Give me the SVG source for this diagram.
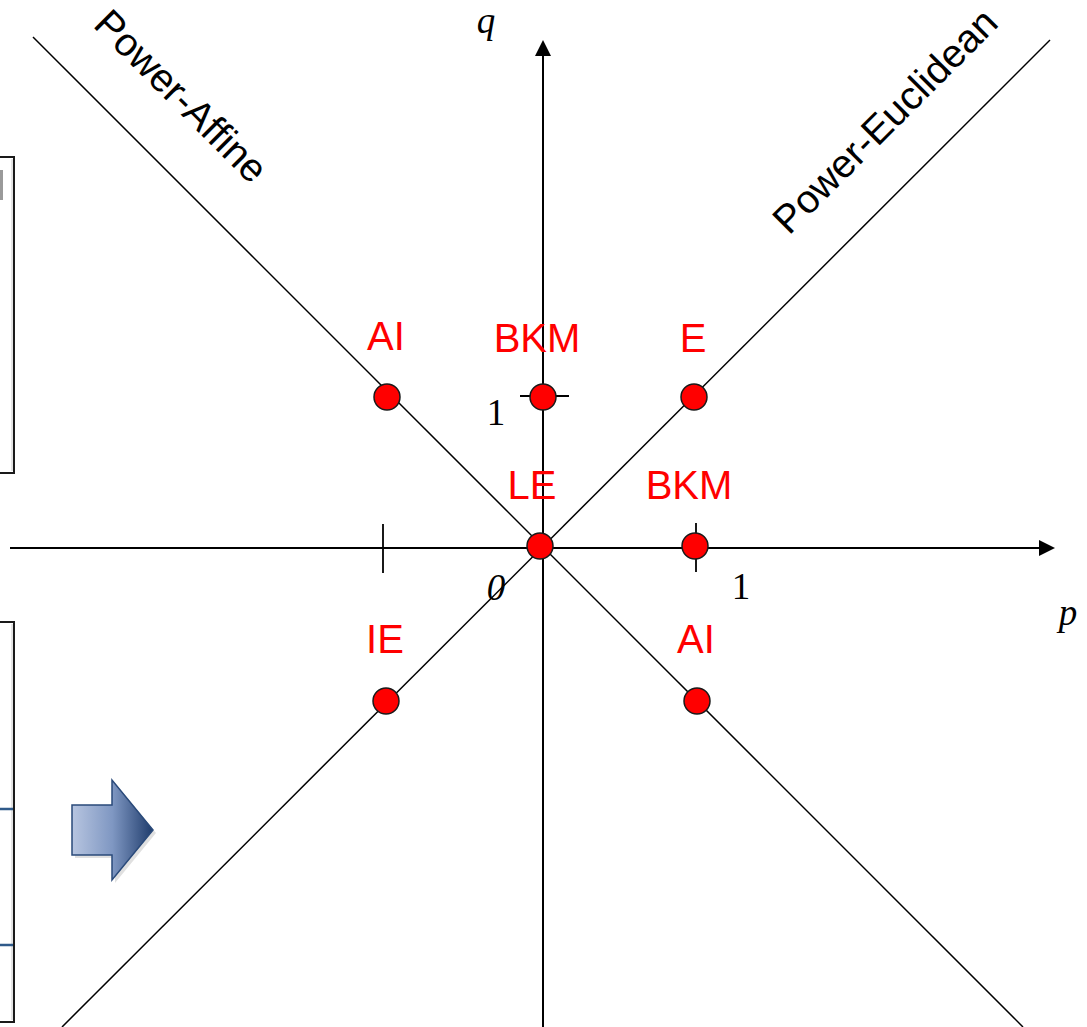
<svg xmlns="http://www.w3.org/2000/svg" width="1087" height="1027" viewBox="0 0 1087 1027">
<style>
.axis{stroke:#000;stroke-width:2;fill:none}
.diag{stroke:#000;stroke-width:1.5;fill:none}
.tick{stroke:#000;stroke-width:1.8}
.dot{fill:#ff0000;stroke:#1a1a1a;stroke-width:1.5}
.lab{font-family:"Liberation Sans",Arial,sans-serif;font-size:40px;fill:#ff0000;text-anchor:middle}
.rot{font-family:"Liberation Sans",Arial,sans-serif;font-size:39.5px;fill:#000}
.math{font-family:"Liberation Serif","DejaVu Serif",serif;font-size:37px;fill:#000}
.it{font-style:italic}
.box{fill:#fff;stroke:#1a1a1a;stroke-width:2}
</style>
<defs>
<linearGradient id="ag" x1="0" y1="0" x2="1" y2="0">
<stop offset="0" stop-color="#b7c5e0"/>
<stop offset="0.5" stop-color="#7f97c2"/>
<stop offset="1" stop-color="#1f3c6c"/>
</linearGradient>
</defs>
<rect width="1087" height="1027" fill="#fff"/>
<g id="left-panels">
<rect class="box" x="-4" y="157" width="18" height="316"/>
<rect x="0" y="170" width="3" height="30" fill="#9a9a9a"/>
<line x1="12" y1="159" x2="12" y2="471" stroke="#c8c8c8" stroke-width="1"/>
<rect class="box" x="-4" y="622" width="18" height="400"/>
<line x1="12" y1="624" x2="12" y2="1020" stroke="#c8c8c8" stroke-width="1"/>
<line x1="0" y1="809" x2="13" y2="809" stroke="#2f5a8a" stroke-width="2.5"/>
<line x1="0" y1="945" x2="13" y2="945" stroke="#2f5a8a" stroke-width="2.5"/>
</g>
<g id="block-arrow">
<path d="M75 808 H115 V783 L156 833 L115 883 V858 H75 Z" fill="#000" opacity="0.12"/>
<path d="M72 805 H112 V780 L153 830 L112 880 V855 H72 Z" fill="url(#ag)" stroke="#2a4a7a" stroke-width="1.5"/>
</g>
<g id="connectors">
<line class="diag" x1="33" y1="37" x2="1023" y2="1027"/>
<line class="diag" x1="1050" y1="40" x2="62" y2="1027"/>
<line class="axis" x1="543" y1="1027" x2="543" y2="54"/>
<path d="M543 40 L535 56 L551 56 Z" fill="#000"/>
<line class="axis" x1="10" y1="548" x2="1041" y2="548"/>
<path d="M1055 548 L1039 540 L1039 556 Z" fill="#000"/>
<line class="tick" x1="520" y1="396" x2="569" y2="396"/>
<line class="tick" x1="383" y1="524" x2="383" y2="573"/>
<line class="tick" x1="696" y1="523" x2="696" y2="572"/>
</g>
<g id="axis-labels">
<text class="math it" x="486" y="33" text-anchor="middle">q</text>
<text class="math it" x="1068" y="625" text-anchor="middle">p</text>
<text class="math" x="496" y="425" text-anchor="middle">1</text>
<text class="math it" x="496" y="600" text-anchor="middle">0</text>
<text class="math" x="741" y="599" text-anchor="middle">1</text>
</g>
<g id="line-labels">
<text class="rot" transform="translate(92,26) rotate(45)">Power-Affine</text>
<text class="rot" transform="translate(789,236) rotate(-45)">Power-Euclidean</text>
</g>
<g id="node-AI-top"><circle class="dot" cx="387" cy="397" r="13"/><text class="lab" x="386" y="350">AI</text></g>
<g id="node-BKM-top"><circle class="dot" cx="543" cy="397" r="13"/><text class="lab" x="537" y="352">BKM</text></g>
<g id="node-E"><circle class="dot" cx="694" cy="397" r="13"/><text class="lab" x="693" y="352">E</text></g>
<g id="node-LE"><circle class="dot" cx="540" cy="546" r="13"/><text class="lab" x="532" y="499">LE</text></g>
<g id="node-BKM-right"><circle class="dot" cx="695" cy="546" r="13"/><text class="lab" x="689" y="499">BKM</text></g>
<g id="node-IE"><circle class="dot" cx="386" cy="701" r="13"/><text class="lab" x="385" y="653">IE</text></g>
<g id="node-AI-bottom"><circle class="dot" cx="697" cy="701" r="13"/><text class="lab" x="696" y="653">AI</text></g>
</svg>
